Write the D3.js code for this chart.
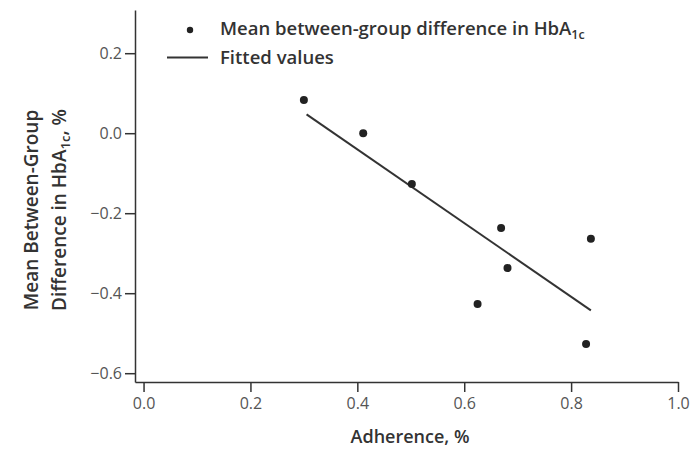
<!DOCTYPE html>
<html>
<head>
<meta charset="utf-8">
<title>Adherence vs HbA1c difference</title>
<style>
  body { margin: 0; background: #fff; }
  svg text { font-family: "Open Sans", "Noto Sans", sans-serif; }
  .tick text { font-size: 16px; fill: #555; }
  .tick line, .domain { stroke: #333; stroke-width: 1.5px; }
</style>
</head>
<body>
<svg width="691" height="451"></svg>
<script src="https://d3js.org/d3.v7.min.js"></script>
<script>
// data
var adherence = [0.300, 0.411, 0.502, 0.669, 0.837, 0.681, 0.625, 0.828];
var hba1cDiff = [0.083, 0.0, -0.127, -0.237, -0.264, -0.337, -0.427, -0.527];
var fitX = [0.305, 0.837];
var fitY = [0.047, -0.443];
var xTicks = [0, 0.2, 0.4, 0.6, 0.8, 1.0];
var yTicks = [0.2, 0.0, -0.2, -0.4, -0.6];

var svg = d3.select("svg");

var x = d3.scaleLinear().domain([-0.016, 1.0]).range([135, 678]);
var y = d3.scaleLinear().domain([-0.622, 0.308]).range([382, 10]);

var fmt = function (d) { return d3.format(".1f")(d).replace("-", "\u2212"); };

// y axis
svg.append("g")
    .attr("transform", "translate(" + x.range()[0] + ",0)")
    .call(d3.axisLeft(y).tickValues(yTicks).tickFormat(fmt).tickSize(10).tickSizeOuter(0).tickPadding(3));

// x axis
svg.append("g")
    .attr("transform", "translate(0," + y.range()[0] + ")")
    .call(d3.axisBottom(x).tickValues(xTicks).tickFormat(fmt).tickSize(10).tickSizeOuter(0).tickPadding(6));

// fitted line
var pts = fitX.map(function (d, i) { return [d, fitY[i]]; });
svg.append("path")
    .datum(pts)
    .attr("fill", "none")
    .attr("stroke", "#333")
    .attr("stroke-width", 2)
    .attr("d", d3.line().x(function (d) { return x(d[0]); }).y(function (d) { return y(d[1]); }));

// points
svg.append("g").selectAll("circle")
    .data(adherence)
    .enter().append("circle")
    .attr("cx", function (d) { return x(d); })
    .attr("cy", function (d, i) { return y(hba1cDiff[i]); })
    .attr("r", 4)
    .attr("fill", "#222");

// legend
var lg = svg.append("g");
lg.append("circle").attr("cx", 190).attr("cy", 30).attr("r", 3.2).attr("fill", "#222");
var t1 = lg.append("text").attr("x", 220).attr("y", 35)
    .attr("font-size", 18.5).attr("font-weight", 600).attr("fill", "#333");
t1.append("tspan").text("Mean between-group difference in HbA");
t1.append("tspan").attr("font-size", 12.5).attr("dy", 4).text("1c");
lg.append("line").attr("x1", 167).attr("x2", 208).attr("y1", 57.5).attr("y2", 57.5)
    .attr("stroke", "#333").attr("stroke-width", 2);
lg.append("text").attr("x", 220).attr("y", 64)
    .attr("font-size", 18.5).attr("font-weight", 600).attr("fill", "#333")
    .text("Fitted values");

// x label
svg.append("text")
    .attr("x", 410).attr("y", 443)
    .attr("text-anchor", "middle")
    .attr("font-size", 18).attr("font-weight", 600).attr("fill", "#333")
    .text("Adherence, %");

// y label
var yl = svg.append("g").attr("transform", "translate(0,210) rotate(-90)");
yl.append("text").attr("x", 0).attr("y", 38)
    .attr("text-anchor", "middle")
    .attr("font-size", 19).attr("font-weight", 600).attr("fill", "#333")
    .text("Mean Between-Group");
var t2 = yl.append("text").attr("x", 0).attr("y", 66)
    .attr("text-anchor", "middle")
    .attr("font-size", 19).attr("font-weight", 600).attr("fill", "#333");
t2.append("tspan").text("Difference in HbA");
t2.append("tspan").attr("font-size", 13).attr("dy", 4).text("1c");
t2.append("tspan").attr("dy", -4).text(", %");
</script>
</body>
</html>
